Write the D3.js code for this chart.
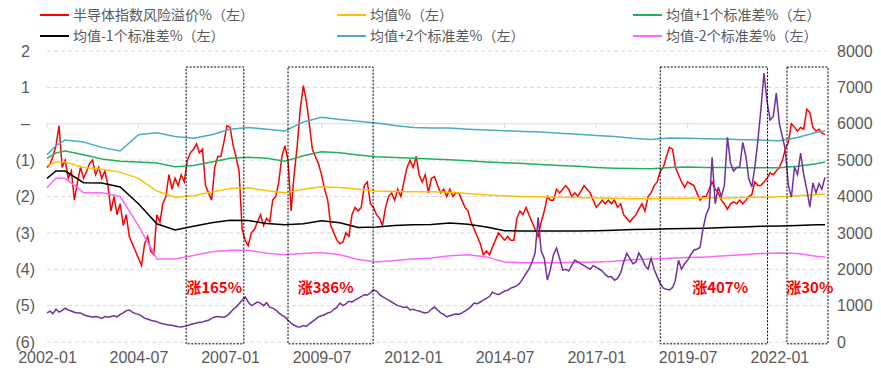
<!DOCTYPE html>
<html>
<head>
<meta charset="utf-8">
<script src="https://cdn.jsdelivr.net/npm/d3@7"></script>
<style>
body { margin: 0; background: #fff; }
text { font-family: "Liberation Sans", Arial, sans-serif; }
.cn { font-family: "Noto Sans CJK SC", "Noto Sans", sans-serif; }
</style>
</head>
<body>
<div id="chart"></div>
<script>
// monthly series, 2002-01 .. 2023-04
var premium = [
  -1.2,-1.1,-0.9,-0.6,-0.05,-1.2,-1.0,-1.5,-1.3,-2.1,
  -1.6,-1.2,-1.5,-1.3,-1.1,-1.0,-1.4,-1.2,-1.5,-1.3,
  -1.7,-2.4,-2.0,-2.5,-2.2,-2.8,-2.5,-3.1,-3.3,-3.5,
  -3.7,-3.9,-3.3,-3.1,-3.5,-3.6,-2.5,-2.7,-2.2,-2.0,
  -1.4,-1.8,-1.5,-1.7,-1.4,-1.6,-1.0,-0.8,-0.7,-0.55,
  -0.8,-0.7,-1.7,-1.9,-2.1,-1.2,-0.9,-0.9,-0.5,-0.05,
  -0.1,-0.6,-0.9,-1.3,-2.9,-3.2,-3.35,-3.0,-2.9,-2.7,
  -2.5,-2.8,-2.6,-2.7,-2.1,-2.0,-1.6,-0.9,-0.6,-1.0,
  -2.4,-1.4,-0.6,0.4,1.05,0.6,0.0,-0.7,-0.9,-1.1,
  -1.4,-1.8,-2.1,-2.8,-3.0,-3.2,-3.3,-3.25,-3.0,-3.1,
  -2.5,-2.3,-2.4,-2.3,-1.7,-1.6,-2.2,-2.3,-2.5,-2.6,
  -2.8,-2.3,-2.0,-1.9,-2.1,-1.8,-2.0,-1.6,-1.2,-1.0,
  -1.2,-0.9,-1.4,-1.6,-1.4,-1.9,-1.5,-1.45,-1.7,-1.9,
  -1.8,-2.0,-1.8,-2.0,-1.9,-1.9,-2.1,-2.3,-2.4,-2.7,
  -2.9,-3.1,-3.3,-3.6,-3.5,-3.6,-3.4,-3.2,-3.0,-3.1,
  -3.2,-3.1,-3.2,-3.2,-2.6,-2.4,-2.5,-2.3,-2.5,-2.7,
  -2.9,-3.1,-2.7,-2.4,-2.0,-2.1,-2.1,-1.8,-1.9,-1.8,
  -1.7,-1.8,-2.0,-1.9,-2.0,-1.85,-1.7,-1.8,-1.9,-2.1,
  -2.3,-2.2,-2.1,-2.2,-2.1,-2.2,-2.1,-2.3,-2.2,-2.5,
  -2.6,-2.7,-2.6,-2.5,-2.35,-2.2,-2.4,-2.0,-1.9,-1.7,
  -1.6,-1.3,-1.2,-0.9,-0.65,-0.7,-1.2,-1.4,-1.6,-1.75,
  -1.6,-1.65,-1.7,-1.9,-2.1,-2.0,-2.0,-1.8,-1.6,-1.8,
  -1.9,-2.1,-2.2,-2.35,-2.2,-2.15,-2.2,-2.1,-2.2,-2.1,
  -2.0,-1.95,-1.6,-1.7,-1.7,-1.6,-1.5,-1.35,-1.4,-1.3,
  -1.2,-1.0,-0.7,-0.5,0.0,-0.1,-0.2,-0.1,-0.15,0.4,
  0.3,-0.1,-0.2,-0.15,-0.25,-0.3
];
var semiIndex = [
  800,850,780,900,820,870,930,880,850,820,
  800,800,750,720,700,690,700,680,650,700,
  680,700,720,690,760,800,860,880,820,780,
  760,720,650,630,600,580,560,520,500,480,
  470,460,440,420,410,430,450,480,500,520,
  540,550,580,600,650,690,700,690,680,720,
  800,900,960,1050,1150,1240,1100,1000,1050,1100,
  1070,1000,1080,960,930,880,800,740,690,600,
  520,460,420,410,450,430,500,560,620,690,
  720,750,800,820,900,950,1070,1000,1050,1120,
  1100,1150,1200,1250,1300,1290,1350,1430,1400,1300,
  1250,1200,1150,1100,1050,1000,980,950,960,880,
  900,870,850,820,800,820,900,960,880,800,
  760,690,720,750,770,760,800,850,900,980,
  1070,1050,1100,1150,1200,1250,1370,1330,1300,1350,
  1400,1420,1480,1510,1550,1620,1750,1890,2000,2200,
  2440,3430,2500,2300,1700,2000,2400,2580,2300,1980,
  2000,1950,2100,2250,2200,2150,2100,2050,2000,2100,
  2050,2000,1950,1850,1790,1800,1700,1750,1900,2200,
  2440,2300,2150,2200,2450,2300,2100,2000,2300,2000,
  1790,1600,1480,1450,1430,1500,1700,2250,2000,2150,
  2250,2400,2530,2550,2600,3100,3500,3700,5080,3800,
  4260,4000,4300,5630,4920,4700,4800,4810,5490,5100,
  4500,4260,4800,5550,6400,7390,6600,6100,6200,6840,
  6000,5630,5300,4300,3980,4810,4600,5190,4600,4200,
  3710,4370,4100,4350,4200,4530
];

// band series at their own dates
var bandDates = ["2002-01","2002-04","2002-07","2003-01","2003-07","2004-01","2004-07","2005-01","2005-07",
  "2006-01","2006-07","2007-01","2007-07","2008-01","2008-07","2009-01","2009-07","2010-01","2010-07",
  "2011-01","2011-07","2012-01","2012-07","2013-01","2013-07","2014-01","2014-07","2015-01","2015-07",
  "2016-01","2016-07","2017-01","2017-07","2018-01","2018-07","2019-01","2019-07","2020-01","2020-07",
  "2021-01","2021-07","2022-01","2022-07","2023-01","2023-04"];
var meanBand = [-1.15,-1.05,-1.05,-1.2,-1.25,-1.33,-1.5,-1.85,-2.02,-1.98,-1.88,-1.78,-1.76,-1.84,-1.9,
  -1.8,-1.73,-1.75,-1.8,-1.85,-1.86,-1.87,-1.87,-1.88,-1.92,-1.96,-1.98,-2.0,-2.01,-2.02,-2.03,-2.04,
  -2.05,-2.06,-2.06,-2.05,-2.05,-2.04,-2.04,-2.03,-2.02,-2.01,-1.98,-1.95,-1.93];
var plus1Band = [-0.95,-0.8,-0.75,-0.85,-0.97,-1.03,-1.05,-1.08,-1.18,-1.15,-1.05,-0.95,-0.92,-0.95,-1.03,
  -0.88,-0.77,-0.8,-0.86,-0.91,-0.93,-0.95,-0.97,-0.99,-1.02,-1.05,-1.07,-1.09,-1.12,-1.15,-1.17,-1.2,
  -1.22,-1.23,-1.24,-1.2,-1.19,-1.2,-1.2,-1.21,-1.21,-1.21,-1.17,-1.1,-1.05];
var minus1Band = [-1.5,-1.3,-1.3,-1.62,-1.63,-1.74,-2.2,-2.75,-2.92,-2.82,-2.72,-2.65,-2.66,-2.74,-2.78,
  -2.75,-2.67,-2.72,-2.85,-2.84,-2.8,-2.78,-2.77,-2.73,-2.76,-2.84,-2.94,-2.95,-2.95,-2.95,-2.95,-2.94,
  -2.93,-2.91,-2.9,-2.89,-2.88,-2.87,-2.85,-2.84,-2.82,-2.81,-2.8,-2.78,-2.78];
var plus2Band = [-0.85,-0.6,-0.45,-0.5,-0.65,-0.75,-0.3,-0.25,-0.35,-0.4,-0.3,-0.15,-0.1,-0.15,-0.2,
  0.05,0.18,0.12,0.07,0.02,-0.05,-0.1,-0.12,-0.12,-0.15,-0.17,-0.19,-0.21,-0.23,-0.26,-0.29,-0.32,
  -0.35,-0.4,-0.43,-0.39,-0.4,-0.41,-0.42,-0.44,-0.45,-0.47,-0.38,-0.24,-0.2];
var minus2Band = [-1.75,-1.5,-1.5,-1.9,-1.9,-2.0,-2.8,-3.72,-3.72,-3.62,-3.52,-3.48,-3.48,-3.56,-3.6,
  -3.57,-3.54,-3.6,-3.73,-3.8,-3.76,-3.72,-3.69,-3.63,-3.6,-3.66,-3.8,-3.82,-3.82,-3.82,-3.81,-3.8,
  -3.78,-3.74,-3.72,-3.7,-3.68,-3.66,-3.63,-3.6,-3.57,-3.55,-3.57,-3.64,-3.66];

var seriesNames = ["半导体指数风险溢价%（左）", "均值%（左）", "均值+1个标准差%（左）",
  "均值-1个标准差%（左）", "均值+2个标准差%（左）", "均值-2个标准差%（左）"];
var seriesColors = ["#ff0000", "#ffc000", "#21b05c", "#000000", "#4bacc6", "#ff66ff"];

var xTickLabels = ["2002-01","2004-07","2007-01","2009-07","2012-01","2014-07","2017-01","2019-07","2022-01"];
var leftTicks = [2, 1, 0, -1, -2, -3, -4, -5, -6];
var rightTicks = [0, 1000, 2000, 3000, 4000, 5000, 6000, 7000, 8000];

var boxStarts = ["2005-10-20", "2008-08-01", "2018-10-01", "2022-03-18"];
var boxEnds = ["2007-05-18", "2010-11-28", "2021-09-05", "2023-05-01"];
var gainLabels = ["涨165%", "涨386%", "涨407%", "涨30%"];
var gainDates = ["2005-10-20", "2008-11-05", "2019-08-15", "2022-03-10"];

var parseM = d3.timeParse("%Y-%m");
var parseD = d3.timeParse("%Y-%m-%d");
var months = d3.timeMonth.range(new Date(2002, 0, 1), new Date(2023, 4, 1));
var bd = bandDates.map(parseM);

var svg = d3.select("#chart").append("svg")
  .attr("width", 881).attr("height", 370);

var x = d3.scaleTime().domain([parseM("2002-01"), parseM("2023-05")]).range([47, 828]);
var yL = d3.scaleLinear().domain([-6, 2]).range([342, 51]);
var yR = d3.scaleLinear().domain([0, 8000]).range([342, 51]);

// grid
svg.append("g").selectAll("line")
  .data(leftTicks.filter(function(d) { return d != 0; }))
  .enter().append("line")
    .attr("x1", 47).attr("x2", 828)
    .attr("y1", function(d) { return yL(d); })
    .attr("y2", function(d) { return yL(d); })
    .style("stroke", "#d9d9d9")
    .style("stroke-dasharray", "4,3")
    .style("stroke-width", 1);

// category axis sits on 0
svg.append("line")
  .attr("x1", 47).attr("x2", 828)
  .attr("y1", yL(0)).attr("y2", yL(0))
  .style("stroke", "#d9d9d9").style("stroke-width", 1);
svg.append("g").selectAll("line")
  .data(xTickLabels.map(parseM))
  .enter().append("line")
    .attr("x1", function(d) { return x(d); })
    .attr("x2", function(d) { return x(d); })
    .attr("y1", yL(0)).attr("y2", yL(0) + 4)
    .style("stroke", "#d9d9d9");

var lineM = d3.line()
  .x(function(d, i) { return x(months[i]); })
  .y(function(d) { return yL(d); });
var lineB = d3.line()
  .x(function(d, i) { return x(bd[i]); })
  .y(function(d) { return yL(d); });
var lineR = d3.line()
  .x(function(d, i) { return x(months[i]); })
  .y(function(d) { return yR(d); });

svg.append("path").datum(premium)
  .attr("d", lineM)
  .style("fill", "none").style("stroke", seriesColors[0]).style("stroke-width", 1.5);

var bands = [meanBand, plus1Band, minus1Band, plus2Band, minus2Band];
bands.forEach(function(b, k) {
  svg.append("path").datum(b)
    .attr("d", lineB)
    .style("fill", "none").style("stroke", seriesColors[k + 1]).style("stroke-width", 1.5);
});

svg.append("path").datum(semiIndex)
  .attr("d", lineR)
  .style("fill", "none").style("stroke", "#7030a0").style("stroke-width", 1.5);

// dashed boxes
svg.append("g").selectAll("rect")
  .data(boxStarts)
  .enter().append("rect")
    .attr("x", function(d) { return x(parseD(d)); })
    .attr("y", yL(1.56))
    .attr("width", function(d, i) { return x(parseD(boxEnds[i])) - x(parseD(d)); })
    .attr("height", yL(-6.05) - yL(1.56))
    .style("fill", "none")
    .style("stroke", "#000")
    .style("stroke-dasharray", "2,1.5")
    .style("stroke-width", 1);

svg.append("g").selectAll("text")
  .data(gainLabels)
  .enter().append("text")
    .attr("class", "cn")
    .attr("x", function(d, i) { return x(parseD(gainDates[i])); })
    .attr("y", yL(-4.51))
    .attr("dy", "0.35em")
    .style("font-size", "15px")
    .style("font-weight", "bold")
    .style("fill", "#ff0000")
    .text(function(d) { return d; });

// axes
var fmtL = function(d) {
  if (d == 0) return "–";
  if (d < 0) return "(" + Math.abs(d) + ")";
  return "" + d;
};
var gL = svg.append("g")
  .attr("transform", "translate(47,0)")
  .call(d3.axisLeft(yL).tickValues(leftTicks).tickFormat(fmtL).tickSize(0).tickPadding(12));
gL.select(".domain").remove();
gL.selectAll("text")
  .attr("dx", function(d) { return d >= 0 ? -5 : 0; });

var gR = svg.append("g")
  .attr("transform", "translate(828,0)")
  .call(d3.axisRight(yR).tickValues(rightTicks).tickFormat(d3.format("d")).tickSize(0).tickPadding(9));
gR.select(".domain").remove();

var gX = svg.append("g")
  .attr("transform", "translate(0,342)")
  .call(d3.axisBottom(x).tickValues(xTickLabels.map(parseM))
    .tickFormat(d3.timeFormat("%Y-%m")).tickSize(0).tickPadding(10));
gX.select(".domain").remove();

svg.selectAll(".tick text")
  .style("font-family", "'Liberation Sans', Arial, sans-serif")
  .style("font-size", "16px")
  .style("fill", "#595959");

// legend
var legX = [40, 337, 633];
var legY = [15, 36];
var leg = svg.append("g").selectAll("g")
  .data(seriesNames)
  .enter().append("g")
    .attr("transform", function(d, i) {
      return "translate(" + legX[i % 3] + "," + legY[Math.floor(i / 3)] + ")";
    });
leg.append("line")
  .attr("x1", 0).attr("x2", 29)
  .style("stroke", function(d, i) { return seriesColors[i]; })
  .style("stroke-width", 2);
leg.append("text")
  .attr("class", "cn")
  .attr("x", 33)
  .attr("dy", "0.35em")
  .style("font-size", "14px")
  .style("fill", "#595959")
  .text(function(d) { return d; });
</script>
</body>
</html>
